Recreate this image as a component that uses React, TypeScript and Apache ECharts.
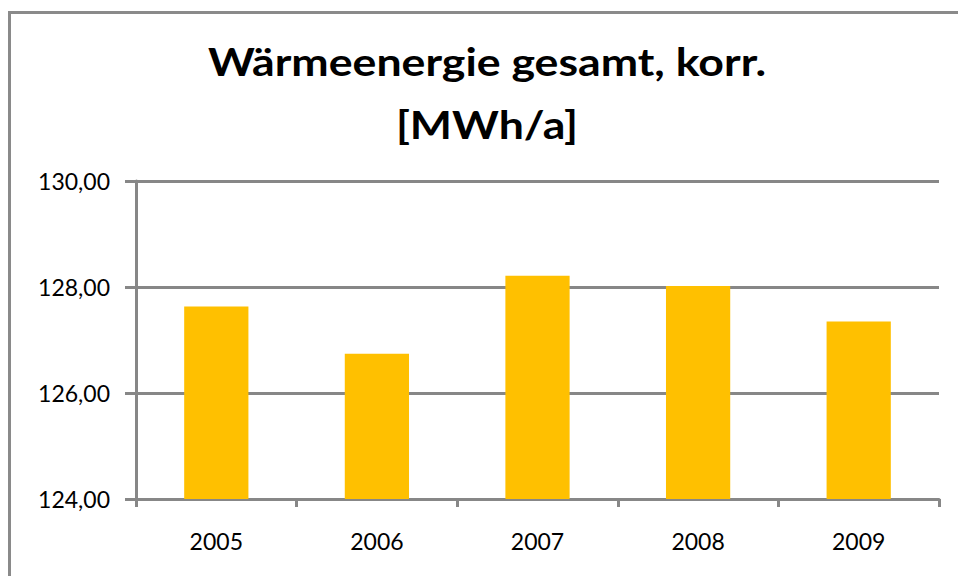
import React, { useEffect, useRef } from "react";
import * as echarts from "echarts";

const categories = ["2005", "2006", "2007", "2008", "2009"];
const values = [127.63, 126.74, 128.21, 128.02, 127.35];
const yMin = 124;
const yMax = 130;
const yInterval = 2;
const titleLines = ["Wärmeenergie gesamt, korr.", "[MWh/a]"];

export default function App() {
  const ref = useRef<HTMLDivElement>(null);
  useEffect(() => {
    if (!ref.current) return;
    const chart = echarts.init(ref.current, null, { renderer: "svg" });
    const gray = "#878787";
    chart.setOption({
      animation: false,
      backgroundColor: "#ffffff",
      textStyle: { fontFamily: "Lato" },
      graphic: [
        {
          type: "rect",
          shape: { x: 9.5, y: 12.5, width: 980, height: 600 },
          style: { fill: "none", stroke: "#8a8a8a", lineWidth: 3 },
          silent: true,
        },
        {
          type: "text",
          x: 487,
          y: 30,
          scaleX: 1.145,
          style: {
            text: titleLines.join("\n"),
            font: "bold 39px Lato",
            fill: "#000000",
            align: "center",
            lineHeight: 63,
          },
        },
      ],
      grid: { left: 136, right: 19, top: 181, bottom: 77, containLabel: false },
      xAxis: {
        type: "category",
        data: categories,
        boundaryGap: true,
        axisLine: { lineStyle: { color: gray, width: 3 } },
        axisTick: { show: true, length: 8, lineStyle: { color: gray, width: 3 } },
        axisLabel: { color: "#000", fontSize: 23, fontFamily: "Lato", margin: 30 },
      },
      yAxis: {
        type: "value",
        min: yMin,
        max: yMax,
        interval: yInterval,
        axisLine: { show: true, lineStyle: { color: gray, width: 3 } },
        axisTick: { show: true, length: 11, lineStyle: { color: gray, width: 3 } },
        splitLine: { lineStyle: { color: gray, width: 3 } },
        axisLabel: {
          color: "#000",
          fontSize: 23,
          fontFamily: "Lato",
          margin: 26,
          formatter: (v: number) => v.toFixed(2).replace(".", ","),
        },
      },
      series: [
        {
          type: "bar",
          data: values,
          barWidth: "40%",
          itemStyle: { color: "#FFC000" },
        },
      ],
    });
    return () => chart.dispose();
  }, []);
  return (
    <div
      ref={ref}
      style={{ position: "fixed", left: 0, top: 0, width: 958, height: 576 }}
    />
  );
}
